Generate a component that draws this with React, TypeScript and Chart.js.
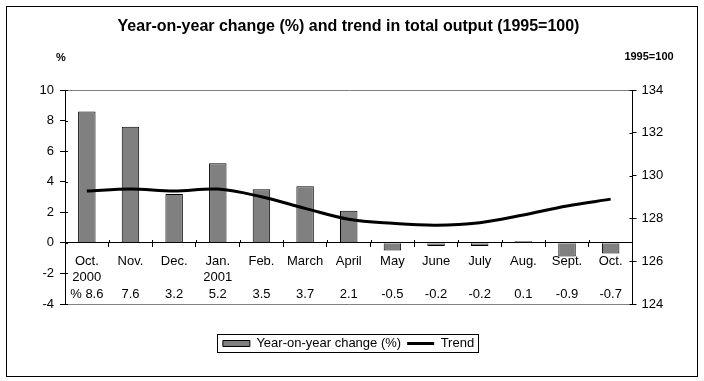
import React, { useEffect, useRef } from 'react';
import { Chart, registerables } from 'chart.js';

Chart.register(...registerables);

// ---- data ----
const months = ['Oct.', 'Nov.', 'Dec.', 'Jan.', 'Feb.', 'March', 'April', 'May', 'June', 'July', 'Aug.', 'Sept.', 'Oct.'];
const yearLabels = ['2000', '', '', '2001', '', '', '', '', '', '', '', '', ''];
const yoyChange = [8.6, 7.6, 3.2, 5.2, 3.5, 3.7, 2.1, -0.5, -0.2, -0.2, 0.1, -0.9, -0.7];
const trendIndex = [129.28, 129.37, 129.28, 129.37, 129.01, 128.47, 127.96, 127.77, 127.68, 127.8, 128.16, 128.58, 128.9];
const leftAxisRange = [-4, 10];
const rightAxisRange = [124, 134];
const axisStep = 2;

const titleText = 'Year-on-year change (%) and trend in total output (1995=100)';
const leftUnit = '%';
const rightUnit = '1995=100';
const seriesNames = ['Year-on-year change (%)', 'Trend'];

const FONT = "'Liberation Sans', Arial, Helvetica, sans-serif";
const LEGEND_SHIFT = 27;

export default function App() {
  const ref = useRef<HTMLCanvasElement>(null);

  useEffect(() => {
    const canvas = ref.current;
    if (!canvas) return;
    Chart.defaults.font.family = FONT;
    Chart.defaults.color = '#000';

    const labels = months.map((m, i) => [
      m,
      yearLabels[i],
      (i === 0 ? '% ' : '') + yoyChange[i].toFixed(1),
    ]);

    // cross-style tick marks (ticks that straddle the axis lines)
    const crossTicks = {
      id: 'crossTicks',
      afterDatasetsDraw(chart: any) {
        const ctx = chart.ctx as CanvasRenderingContext2D;
        const x = chart.scales.x;
        const y = chart.scales.y;
        const y1 = chart.scales.y1;
        const zero = Math.round(y.getPixelForValue(0));
        ctx.save();
        ctx.strokeStyle = '#000';
        ctx.lineWidth = 1;
        ctx.beginPath();
        for (let i = 1; i < x.ticks.length; i++) {
          const px = Math.round((x.getPixelForTick(i - 1) + x.getPixelForTick(i)) / 2) + 0.5;
          ctx.moveTo(px, zero - 3);
          ctx.lineTo(px, zero);
        }
        y.ticks.forEach((_t: any, i: number) => {
          const py = Math.round(y.getPixelForTick(i)) + 0.5;
          ctx.moveTo(chart.chartArea.left, py);
          ctx.lineTo(chart.chartArea.left + 3, py);
        });
        y1.ticks.forEach((_t: any, i: number) => {
          const py = Math.round(y1.getPixelForTick(i)) + 0.5;
          ctx.moveTo(chart.chartArea.right - 3, py);
          ctx.lineTo(chart.chartArea.right, py);
        });
        ctx.stroke();
        ctx.restore();
      },
    };

    const framePlugin = {
      id: 'frame',
      afterLayout(chart: any) {
        const lg = chart.legend;
        if (lg) {
          lg.top += LEGEND_SHIFT;
          lg.bottom += LEGEND_SHIFT;
        }
      },
      afterDraw(chart: any) {
        const ctx = chart.ctx as CanvasRenderingContext2D;
        ctx.save();
        ctx.strokeStyle = '#000';
        ctx.lineWidth = 1;
        ctx.strokeRect(6.5, 6.5, 691, 370);
        const hb = chart.legend?.legendHitBoxes;
        if (hb && hb.length) {
          const l = Math.min(...hb.map((h: any) => h.left));
          const r = Math.max(...hb.map((h: any) => h.left + h.width));
          const t = hb[0].top;
          ctx.strokeRect(Math.round(l - 6) + 0.5, Math.round(t - 3) + 0.5, Math.round(r - l + 10), 18);
        }
        ctx.fillStyle = '#000';
        ctx.font = `bold 11px ${FONT}`;
        ctx.textAlign = 'center';
        ctx.textBaseline = 'middle';
        ctx.fillText(leftUnit, 61, 58);
        ctx.fillText(rightUnit, 649, 57);
        ctx.restore();
      },
    };

    const chart = new Chart(canvas, {
      type: 'bar',
      data: {
        labels,
        datasets: [
          {
            type: 'bar',
            label: seriesNames[0],
            data: yoyChange,
            yAxisID: 'y',
            backgroundColor: '#808080',
            borderColor: '#000',
            borderWidth: 1,
            barPercentage: 0.4,
            categoryPercentage: 1,
            pointStyle: 'rect',
            order: 2,
          } as any,
          {
            type: 'line',
            label: seriesNames[1],
            data: trendIndex,
            yAxisID: 'y1',
            borderColor: '#000',
            backgroundColor: '#000',
            borderWidth: 3,
            pointRadius: 0,
            pointHoverRadius: 0,
            pointBorderWidth: 3,
            pointBorderColor: '#000',
            pointStyle: 'line',
            tension: 0.35,
            order: 1,
          } as any,
        ],
      },
      options: {
        responsive: false,
        animation: false,
        devicePixelRatio: 1,
        layout: { padding: { left: 0, right: 7, top: 0, bottom: 48 } },
        plugins: {
          title: {
            display: true,
            text: titleText,
            color: '#000',
            font: { size: 16, weight: 'bold', family: FONT, lineHeight: 1.2 },
            padding: { top: 16.5, bottom: 54.3 },
          },
          legend: {
            position: 'bottom',
            labels: {
              usePointStyle: true,
              pointStyleWidth: 27,
              boxWidth: 27,
              boxHeight: 6,
              padding: 6,
              color: '#000',
              font: { size: 13, family: FONT },
              sort: (a: any, b: any) => a.datasetIndex - b.datasetIndex,
            },
          },
          tooltip: { enabled: false },
        },
        scales: {
          x: {
            type: 'category',
            position: { y: 0 } as any,
            offset: true,
            grid: {
              offset: true,
              drawOnChartArea: false,
              drawTicks: true,
              tickLength: 4,
              tickColor: '#000',
            },
            border: { color: '#000', width: 1 },
            ticks: {
              color: '#000',
              font: { size: 13, family: FONT, lineHeight: 1.28 },
              padding: 6,
              maxRotation: 0,
              autoSkip: false,
            },
          },
          y: {
            type: 'linear',
            position: 'left',
            min: leftAxisRange[0],
            max: leftAxisRange[1],
            afterFit: (s: any) => { s.width = 65; },
            grid: {
              color: (c: any) => (c.tick && (c.tick.value === leftAxisRange[0] || c.tick.value === leftAxisRange[1]) ? '#808080' : 'rgba(0,0,0,0)'),
              tickColor: '#000',
              tickLength: 5,
            },
            border: { color: '#000', width: 1 },
            ticks: {
              stepSize: axisStep,
              color: '#000',
              font: { size: 13, family: FONT },
              padding: 6,
            },
          },
          y1: {
            type: 'linear',
            position: 'right',
            min: rightAxisRange[0],
            max: rightAxisRange[1],
            afterFit: (s: any) => { s.width = 64.5; },
            grid: {
              drawOnChartArea: false,
              tickColor: '#000',
              tickLength: 4,
            },
            border: { color: '#000', width: 1 },
            ticks: {
              stepSize: axisStep,
              color: '#000',
              font: { size: 13, family: FONT },
              padding: 5,
            },
          },
        },
      } as any,
      plugins: [crossTicks, framePlugin],
    });

    return () => chart.destroy();
  }, []);

  return (
    <div style={{ position: 'absolute', left: 0, top: 0, width: 704, height: 381, background: '#fff' }}>
      <canvas ref={ref} width={704} height={381} style={{ display: 'block', width: 704, height: 381 }} />
    </div>
  );
}
